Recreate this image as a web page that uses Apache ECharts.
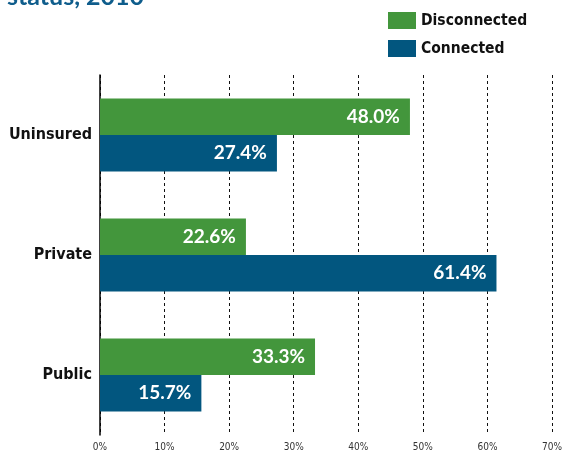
<!DOCTYPE html>
<html>
<head>
<meta charset="utf-8">
<script src="https://cdn.jsdelivr.net/npm/echarts@6/dist/echarts.min.js"></script>
<style>
  html, body { margin: 0; padding: 0; background: #fff; }
  #chart { width: 565px; height: 452px; }
</style>
</head>
<body>
<div id="chart"></div>
<script>
var categories = ['Uninsured', 'Private', 'Public'];
var disconnected = [48.0, 22.6, 33.3];
var connected = [27.4, 61.4, 15.7];
var xTicks = [0, 10, 20, 30, 40, 50, 60, 70];

var myChart = echarts.init(document.getElementById('chart'));

var valueLabel = {
    show: true,
    position: 'insideRight',
    distance: 10,
    color: '#fff',
    fontSize: 19,
    fontWeight: 'bold',
    fontFamily: 'Lato',
    formatter: function (p) { return p.value.toFixed(1) + '%'; }
};

var option = {
    animation: false,
    title: {
        text: 'status, 2010',
        left: 2,
        top: -21,
        textStyle: { color: '#0f5d8c', fontSize: 25, fontWeight: 'bold', fontFamily: 'Lato' }
    },
    legend: {
        orient: 'vertical',
        left: 383,
        top: 7,
        itemWidth: 28,
        itemHeight: 17,
        itemGap: 11,
        icon: 'rect',
        textStyle: { color: '#111', fontSize: 15.5, fontWeight: 'bold', fontFamily: 'DejaVu Sans Condensed' },
        data: ['Disconnected', 'Connected']
    },
    grid: { left: 100, right: 11, top: 75, height: 360 },
    xAxis: {
        type: 'value',
        min: 0,
        max: 70,
        interval: 10,
        axisLine: { show: false },
        axisTick: { show: false },
        splitLine: { show: true, lineStyle: { color: '#111', type: [3, 3], width: 1 } },
        axisLabel: {
            color: '#333',
            fontSize: 10,
            fontFamily: 'DejaVu Sans Condensed',
            margin: 7,
            formatter: function (v) { return xTicks.indexOf(v) >= 0 ? v + '%' : ''; }
        }
    },
    yAxis: {
        type: 'category',
        inverse: true,
        data: categories,
        axisLine: { show: true, lineStyle: { color: '#000', width: 1.5 } },
        axisTick: { show: false },
        axisLabel: { color: '#111', fontSize: 16, fontWeight: 'bold', fontFamily: 'DejaVu Sans Condensed', margin: 8 }
    },
    series: [{
        name: 'Disconnected',
        type: 'bar',
        data: disconnected,
        barWidth: 36.5,
        barGap: '0%',
        itemStyle: { color: '#43963c' },
        label: valueLabel
    }, {
        name: 'Connected',
        type: 'bar',
        data: connected,
        barWidth: 36.5,
        barGap: '0%',
        itemStyle: { color: '#02567f' },
        label: valueLabel
    }]
};

myChart.setOption(option);
</script>
</body>
</html>
